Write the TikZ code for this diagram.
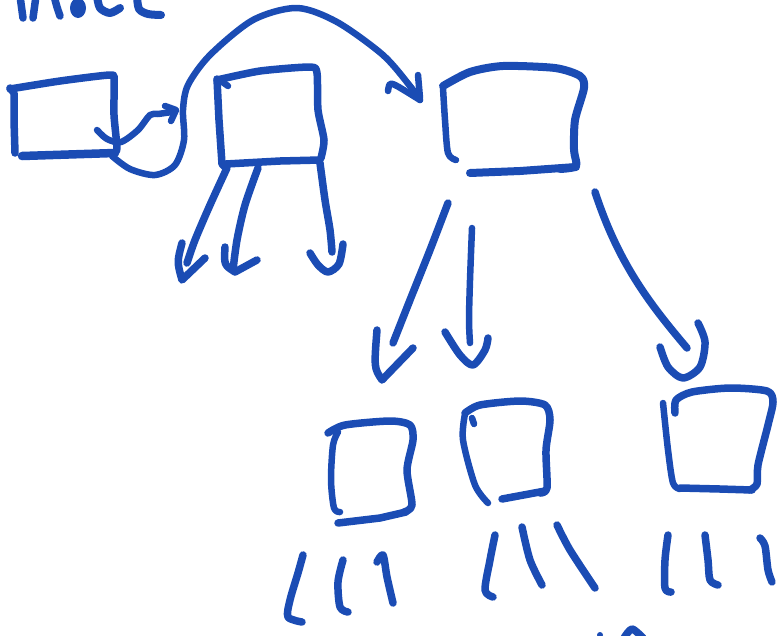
\documentclass[tikz,border=0pt]{standalone}
\definecolor{ink}{RGB}{27,76,180}
\begin{document}
\begin{tikzpicture}[x=1pt,y=-1pt,
  sk/.style={draw=ink, line width=7.5pt, line cap=round, line join=round},
  thin/.style={sk, line width=6.5pt}]
\useasboundingbox (0,0) rectangle (783,635);
\begin{scope}
\clip (0,0) rectangle (783,635);
% partial handwriting at top
\draw[sk] (20,-4) -- (23,18);
\draw[sk] (33,18) -- (36,-4);
\draw[sk] plot[smooth] coordinates {(54,-4)(57,7)(60,16)};
\fill[ink] (78,8) ellipse (8pt and 10pt);
\draw[sk, line width=8pt] plot[smooth] coordinates {(97,-4)(100,8)(110,13)(120,8)};
\draw[sk, line width=8pt] plot[smooth] coordinates {(137,-4)(139,9)(148,14)(161,15)};
% bottom edge bits
\fill[ink] (600,635) circle (3pt);
\draw[sk] plot[smooth] coordinates {(624,638)(632,629)(643,638)};
\end{scope}

% Box A
\draw[sk] plot[smooth, tension=0.4] coordinates {(10,89)(60,81)(110,75)(114,80)(114,115)(117,148)(114,153)};
\draw[sk, line width=8.5pt] (22,156) -- (115,153);
\draw[sk] (10,88) -- (14,93) -- (14,120) -- (15,153);
% arrow A -> B
\draw[thin] plot[smooth] coordinates {(97,130)(107,139)(121,142)(138,130)(150,115)(158,114)(172,112)};
\draw[thin] (165,106) -- (176,110) -- (171,121);
% big curve under A, up and over to C
\draw[thin] plot[smooth] coordinates {(112,156)(130,169)(155,175)(175,165)(184,140)(183,110)(188,85)(210,55)(253,20)(297,8)(337,22)(383,55)(410,86)(420,100)};
\draw[thin] plot[smooth] coordinates {(388,91)(390,84)(397,86)(420,100)};
\draw[thin] (418,75) -- (420,98);

% Box B
\draw[sk] plot[smooth, tension=0.4] coordinates {(217,80)(260,71)(310,67)(317,73)(318,110)(324,140)(321,158)};
\draw[sk] (217,79) -- (219,120) -- (222,164) -- (226,168);
\draw[sk] (226,164) -- (280,161) -- (320,160);
\draw[thin] (221,81) -- (228,86);
% arrows from B
\draw[sk] plot[smooth] coordinates {(227,168)(210,205)(195,240)(187,263)};
\draw[sk] (182,243) .. controls (177,262) .. (182,280) -- (205,258);
\draw[sk] plot[smooth] coordinates {(258,168)(245,205)(237,240)(233,270)};
\draw[sk] (225,247) .. controls (224,265) .. (235,272) -- (257,260);
\draw[sk] plot[smooth] coordinates {(320,163)(325,200)(330,230)(332,252)};
\draw[sk] plot[smooth] coordinates {(310,253)(318,265)(328,272)(339,264)(343,244)};

% Box C
\draw[sk, line width=8pt] plot[smooth, tension=0.45] coordinates {(443,86)(470,72)(503,66)(555,68)(580,76)(584,88)(575,120)(574,150)(576,166)(560,169)};
\draw[sk, line width=8pt] (576,167) -- (520,171) -- (470,173);
\draw[thin] plot[smooth] coordinates {(443,88)(445,120)(448,153)(456,160)};
% arrows from C
\draw[sk] plot[smooth] coordinates {(448,203)(430,250)(410,300)(393,343)};
\draw[sk] (377,330) .. controls (374,368) .. (382,380) -- (413,348);
\draw[thin] plot[smooth] coordinates {(472,228)(470,280)(469,320)(470,343)};
\draw[sk] plot[smooth] coordinates {(445,332)(460,355)(473,365)(485,350)(488,338)};
\draw[sk] (595,192) .. controls (618,262) and (648,302) .. (687,348);
\draw[sk] plot[smooth] coordinates {(698,323)(705,342)(700,367)(683,378)(668,367)(660,347)};

% Box D
\draw[sk] plot[smooth, tension=0.45] coordinates {(328,433)(345,425)(390,421)(410,425)(413,440)(407,470)(412,505)(404,512)};
\draw[sk] (338,523) -- (380,518) -- (406,512);
\draw[thin] plot[smooth] coordinates {(338,432)(333,445)(331,480)(334,508)(340,512)};
% Box E
\draw[sk] plot[smooth, tension=0.45] coordinates {(465,413)(480,405)(520,401)(545,405)(550,420)(546,450)(547,488)(540,493)};
\draw[sk] (502,499) -- (545,491);
\draw[thin] plot[smooth] coordinates {(465,414)(463,440)(475,485)(488,503)};
\draw[thin] (472,418) -- (474,424);
% Box F
\draw[sk] plot[smooth, tension=0.45] coordinates {(675,413)(676,400)(692,392)(730,388)(767,391)(773,402)(768,425)(758,465)(757,484)(750,490)};
\draw[sk] (680,488) -- (720,489) -- (752,490);
\draw[thin] plot[smooth] coordinates {(663,403)(668,450)(673,483)(680,489)};

% bottom strokes
\draw[sk] plot[smooth] coordinates {(303,555)(298,573)(290,600)(288,617)(302,622)};
\draw[sk] plot[smooth] coordinates {(343,560)(338,582)(340,607)(348,612)};
\draw[sk] plot[smooth] coordinates {(377,562)(383,555)(387,577)(393,603)};
\draw[sk] plot[smooth] coordinates {(495,535)(490,560)(485,590)(493,597)};
\draw[sk] plot[smooth] coordinates {(522,527)(530,560)(542,585)};
\draw[sk] plot[smooth] coordinates {(557,525)(570,550)(595,588)};
\draw[sk] plot[smooth] coordinates {(668,535)(665,560)(665,588)(671,592)};
\draw[sk] plot[smooth] coordinates {(705,535)(708,560)(710,580)(718,585)};
\draw[sk] plot[smooth] coordinates {(760,538)(765,546)(768,570)(772,582)};
\end{tikzpicture}
\end{document}
